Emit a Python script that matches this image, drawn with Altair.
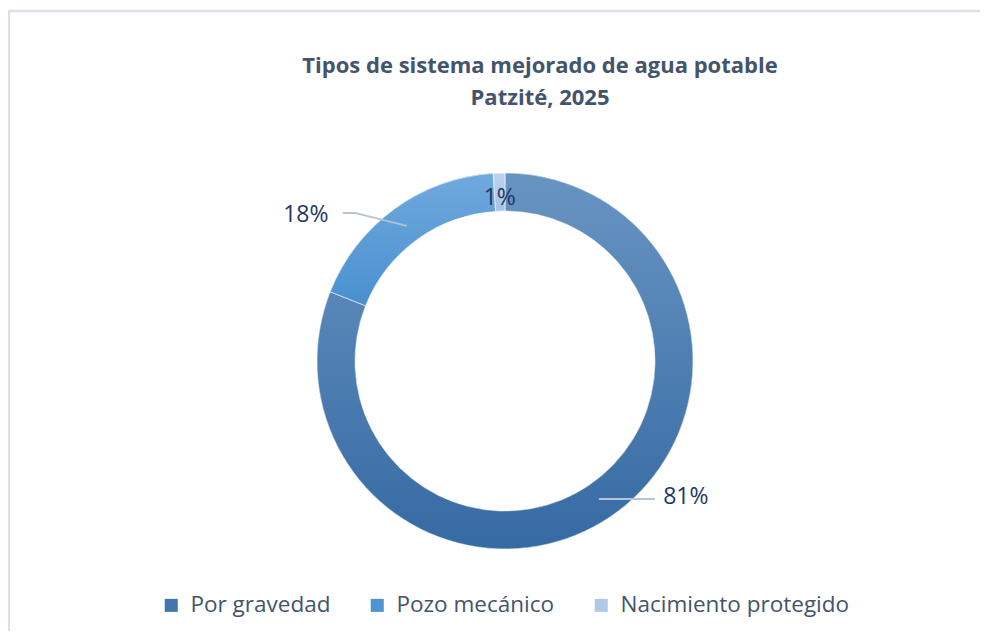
import math
import altair as alt
import pandas as pd
import numpy as np

# ---- data ----
categories = ["Por gravedad", "Pozo mecánico", "Nacimiento protegido"]
shares = [81, 18, 1]
labels = ["81%", "18%", "1%"]
title_lines = ["Tipos de sistema mejorado de agua potable", "Patzité, 2025"]

# ---- styles ----
legend_colors = ["#4375ac", "#4e94d3", "#b0c8e6"]
grad_top = ["#6894c2", "#70a9de", "#bdd2ec"]
grad_bottom = ["#366aa3", "#4990d0", "#a8c2e3"]

W, H = 972, 623
CX, CY = 497, 353
R_OUT, R_IN, R_MID = 188, 150, 167
FONT = "Open Sans"

cum_end = np.cumsum(shares)
df = pd.DataFrame({
    "cat": categories,
    "share": shares,
    "label": labels,
    "idx": list(range(len(categories))),
    "start": cum_end - np.array(shares),
    "end": cum_end,
})

theta_scale = alt.Scale(domain=[0, 100], range=[0, 2 * math.pi])

base = alt.Chart(df)

arcs_solid = base.mark_arc(outerRadius=R_OUT, innerRadius=R_IN).encode(
    x=alt.value(CX), y=alt.value(CY),
    theta=alt.Theta("start:Q", scale=theta_scale),
    theta2="end:Q",
    color=alt.Color(
        "cat:N",
        scale=alt.Scale(domain=categories, range=legend_colors),
        legend=alt.Legend(
            orient="none", legendX=152, legendY=586, direction="horizontal",
            title=None, symbolType="square", symbolSize=170, symbolStrokeWidth=0,
            labelFontSize=22.5, labelFont=FONT, labelColor="#44546a",
            columnPadding=35, labelOffset=8, labelLimit=0,
        ),
    ),
)

grad_layers = []
for i in range(len(categories)):
    grad = alt.Gradient(
        gradient="linear", x1=0, x2=0, y1=0, y2=1,
        stops=[alt.GradientStop(color=grad_top[i], offset=0),
               alt.GradientStop(color=grad_bottom[i], offset=1)],
    )
    grad_layers.append(
        base.transform_filter(alt.datum.idx == i)
        .mark_arc(outerRadius=R_OUT, innerRadius=R_IN, fill=grad,
                  stroke="white", strokeWidth=0.6)
        .encode(x=alt.value(CX), y=alt.value(CY),
                theta=alt.Theta("start:Q", scale=theta_scale), theta2="end:Q")
    )

# leader lines: offsets from slice mid-point (annotation layout)
lead = pd.DataFrame({
    "idx": [0, 0, 1, 1, 1],
    "step": [0, 1, 0, 1, 2],
    "dx": [0, 56, 0, -52, -64],
    "dy": [0, 0, 0, -13, -13],
})
lead = lead.merge(df[["idx", "start", "share"]], on="idx")

mid_calc = dict(
    mid="(datum.start + datum.share / 2) / 100 * 2 * PI",
)
leaders = alt.Chart(lead).transform_calculate(**mid_calc).transform_calculate(
    px=f"{CX} + {R_MID} * sin(datum.mid) + datum.dx",
    py=f"{CY} - {R_MID} * cos(datum.mid) + datum.dy",
).mark_line(color="#b7c3d0", strokeWidth=2).encode(
    x=alt.X("px:Q", scale=None), y=alt.Y("py:Q", scale=None),
    detail="idx:N", order="step:Q",
)

lab = df.copy()
lab["ldx"] = [87, -101, 0]
lab["ldy"] = [-2, -11, 4]
texts = alt.Chart(lab).transform_calculate(**mid_calc).transform_calculate(
    px=f"{CX} + {R_MID} * sin(datum.mid) + datum.ldx",
    py=f"{CY} - {R_MID} * cos(datum.mid) + datum.ldy",
).mark_text(font=FONT, fontSize=23, color="#1f3864", align="center",
            baseline="middle").encode(
    x=alt.X("px:Q", scale=None), y=alt.Y("py:Q", scale=None), text="label:N",
)

tdf = pd.DataFrame({"t": title_lines, "row": [0, 1]})
title = alt.Chart(tdf).transform_calculate(
    ty="58 + datum.row * 32"
).mark_text(font=FONT, fontSize=22, fontWeight="bold", color="#44546a",
            align="center", baseline="middle").encode(
    x=alt.value(532), y=alt.Y("ty:Q", scale=None), text="t:N",
)

border_top = alt.Chart(pd.DataFrame({"a": [0]})).mark_rule(
    color="#dbe1e8", strokeWidth=2.5).encode(
    x=alt.value(0), x2=alt.value(W), y=alt.value(3))
border_left = alt.Chart(pd.DataFrame({"a": [0]})).mark_rule(
    color="#dbe1e8", strokeWidth=2).encode(
    x=alt.value(1), y=alt.value(3), y2=alt.value(H))

chart = alt.layer(
    border_top, border_left, arcs_solid, *grad_layers, leaders, texts, title
).properties(
    width=W, height=H, autosize=alt.AutoSizeParams(type="none"), padding=0,
    background="white",
).configure_view(stroke=None)

chart.save("out.html", embed_options={"renderer": "svg", "actions": False})
